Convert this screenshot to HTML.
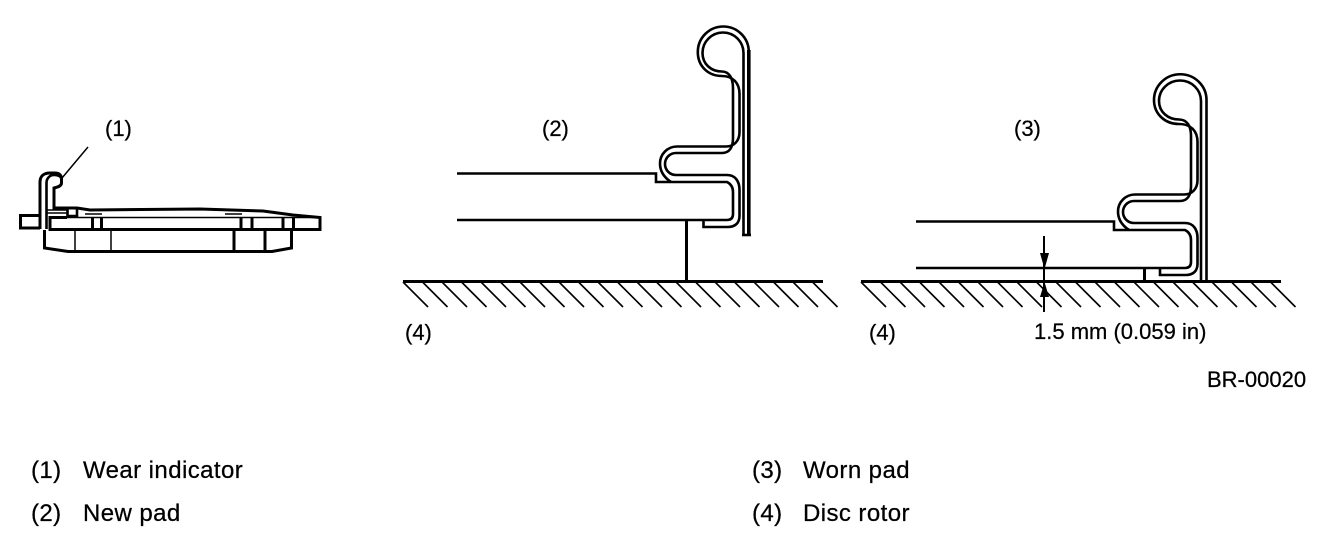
<!DOCTYPE html>
<html><head><meta charset="utf-8"><style>
html,body{margin:0;padding:0;background:#fff}
svg{display:block}
text{font-family:"Liberation Sans",Arial,sans-serif;fill:#000;stroke:#000;stroke-width:.25px;font-size:22px}
.l{font-size:24px;letter-spacing:.42px}
.s{fill:none;stroke:#000;stroke-width:3;stroke-linejoin:miter}
.c{fill:none;stroke:#000;stroke-width:2.6;stroke-linejoin:miter}
.t{fill:none;stroke:#000;stroke-width:1.5}
.h{stroke:#000;stroke-width:1.6}
</style></head><body>
<svg width="1344" height="544" viewBox="0 0 1344 544" xmlns="http://www.w3.org/2000/svg">
<rect width="1344" height="544" fill="#fff"/>
<!-- small pad -->
<path class="s" d="M40 229V182C40 176 44 173 50 173H55C59 173 61.500 175 61.500 179V183C61.500 186 58 187 54 188V208H77L90 210L200 209L263 211L293 215L320 217.500V229.500H50V217.500H67"/>
<path class="c" d="M46.500 229V183C46.500 178 50 175 54 175C58 175 60 176 61.500 178"/>
<path class="s" d="M40 215.500H20.500V228H40"/>
<path class="t" d="M47 210H67M47 213H67M50 217.500H320M62 178L88 147"/>
<path class="c" d="M67.500 209V216H77V208.500"/>
<path class="s" d="M92.500 218V229M101.500 218V229M241 218V229M252 218V229M283 218V229M293.500 218V229"/>
<path class="s" d="M44.500 230V248L68 251.500H272L291.500 248V230"/>
<path class="t" d="M75 231V251M111 231V251"/>
<path class="s" d="M234 231V251M265 231V251"/>
<path class="t" stroke-width="2" d="M85 214H102M225 214H242"/>
<!-- diagram 2 -->
<path class="c" d="M457 173.500H656V182H727Q733 185 733 192V214Q733 220 727 220H457"/>
<path class="c" d="M748.800 235V52A25.500 25.500 0 0 0 697.800 52C697.800 66 708 76 722 76C733 76 739.500 83 739.500 94V132C739.500 141 734 146.500 726 146.500H677A17 17 0 0 0 660 163.500C660 172 665 178 671 182"/>
<path class="c" d="M743.500 235V53A20.500 20.500 0 0 0 702.500 53C702.500 64 711 71.500 722 71.500C729 71.500 733 78 733 88V138C733 148 729 153 722 153H676A11 11 0 0 0 676 175H727C735 175 739.500 181 739.500 190V216C739.500 223 735 227 728 227H703.500V221"/>
<path class="c" d="M742 235H751"/>
<path d="M748.800 50V235" stroke="#000" stroke-width="3.600" fill="none"/>
<path class="s" d="M686.500 220V281"/>
<path class="s" d="M403 281.500H823"/>
<g class="h">
<line x1="403" y1="282" x2="428" y2="307"/><line x1="422.500" y1="282" x2="447.500" y2="307"/><line x1="442" y1="282" x2="467" y2="307"/><line x1="461.500" y1="282" x2="486.500" y2="307"/><line x1="481" y1="282" x2="506" y2="307"/><line x1="500.500" y1="282" x2="525.500" y2="307"/><line x1="520" y1="282" x2="545" y2="307"/><line x1="539.500" y1="282" x2="564.500" y2="307"/><line x1="559" y1="282" x2="584" y2="307"/><line x1="578.500" y1="282" x2="603.500" y2="307"/><line x1="598" y1="282" x2="623" y2="307"/><line x1="617.500" y1="282" x2="642.500" y2="307"/><line x1="637" y1="282" x2="662" y2="307"/><line x1="656.500" y1="282" x2="681.500" y2="307"/><line x1="676" y1="282" x2="701" y2="307"/><line x1="695.500" y1="282" x2="720.500" y2="307"/><line x1="715" y1="282" x2="740" y2="307"/><line x1="734.500" y1="282" x2="759.500" y2="307"/><line x1="754" y1="282" x2="779" y2="307"/><line x1="773.500" y1="282" x2="798.500" y2="307"/><line x1="793" y1="282" x2="818" y2="307"/><line x1="812.500" y1="282" x2="837.500" y2="307"/>
</g>
<!-- diagram 3 -->
<g transform="translate(458 48)">
<path class="c" d="M458 173.500H656V182H727Q733 185 733 192V214Q733 220 727 220H458"/>
<path class="c" d="M748.500 233V52A26 25.500 0 0 0 696 52C696 66 707 76 721 76C733 76 739.500 83 739.500 94V132C739.500 141 734 146.500 726 146.500H677A17 17 0 0 0 660 163.500C660 172 665 178 671 182"/>
<path class="c" d="M743 233V53A21 20.500 0 0 0 701 53C701 64 710 71.500 721 71.500C729 71.500 733 78 733 88V138C733 148 729 153 722 153H676A11 11 0 0 0 676 175H727C735 175 739.500 181 739.500 190V216C739.500 223 735 227 728 227H702V221"/>
<path class="s" d="M686.500 220V233"/>
</g>
<path class="s" d="M861 281.500H1281"/>
<g class="h">
<line x1="861" y1="282" x2="886" y2="307"/><line x1="880.500" y1="282" x2="905.500" y2="307"/><line x1="900" y1="282" x2="925" y2="307"/><line x1="919.500" y1="282" x2="944.500" y2="307"/><line x1="939" y1="282" x2="964" y2="307"/><line x1="958.500" y1="282" x2="983.500" y2="307"/><line x1="978" y1="282" x2="1003" y2="307"/><line x1="997.500" y1="282" x2="1022.500" y2="307"/><line x1="1017" y1="282" x2="1042" y2="307"/><line x1="1036.500" y1="282" x2="1061.500" y2="307"/><line x1="1056" y1="282" x2="1081" y2="307"/><line x1="1075.500" y1="282" x2="1100.500" y2="307"/><line x1="1095" y1="282" x2="1120" y2="307"/><line x1="1114.500" y1="282" x2="1139.500" y2="307"/><line x1="1134" y1="282" x2="1159" y2="307"/><line x1="1153.500" y1="282" x2="1178.500" y2="307"/><line x1="1173" y1="282" x2="1198" y2="307"/><line x1="1192.500" y1="282" x2="1217.500" y2="307"/><line x1="1212" y1="282" x2="1237" y2="307"/><line x1="1231.500" y1="282" x2="1256.500" y2="307"/><line x1="1251" y1="282" x2="1276" y2="307"/><line x1="1270.500" y1="282" x2="1295.500" y2="307"/>
</g>
<!-- dimension -->
<path d="M1044 236V312" stroke="#000" stroke-width="2" fill="none"/>
<path d="M1040 253H1049L1044.500 269Z M1040 297H1049L1044.500 282Z" fill="#000"/>
<!-- labels -->
<text x="105" y="136">(1)</text>
<text x="542" y="136">(2)</text>
<text x="1014" y="136">(3)</text>
<text x="405" y="340">(4)</text>
<text x="869" y="340">(4)</text>
<text x="1034" y="339">1.5 mm (0.059 in)</text>
<text x="1207" y="387">BR-00020</text>
<text class="l" x="31" y="478">(1)</text><text class="l" x="83" y="478">Wear indicator</text>
<text class="l" x="31" y="521">(2)</text><text class="l" x="83" y="521">New pad</text>
<text class="l" x="752" y="478">(3)</text><text class="l" x="803" y="478">Worn pad</text>
<text class="l" x="752" y="521">(4)</text><text class="l" x="803" y="521">Disc rotor</text>
</svg>
</body></html>
